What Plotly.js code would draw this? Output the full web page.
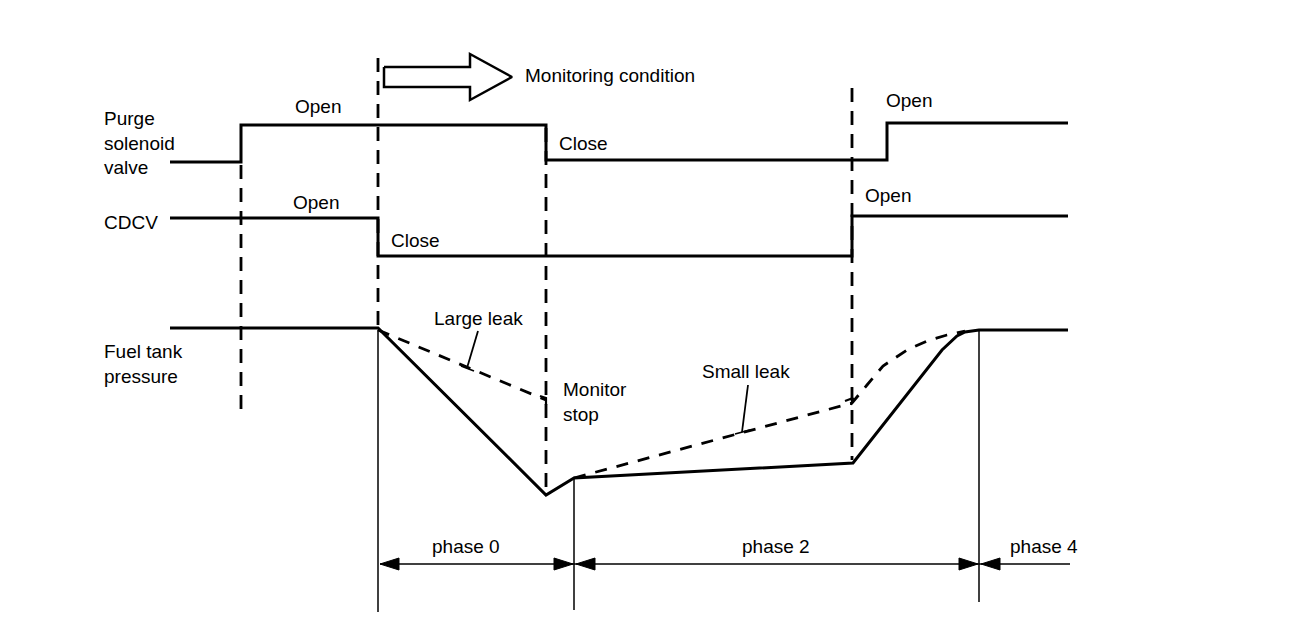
<!DOCTYPE html>
<html>
<head>
<meta charset="utf-8">
<script src="https://cdn.plot.ly/plotly-3.0.1.min.js"></script>
<style>html,body{margin:0;padding:0;background:#fff;}#chart{width:1312px;height:642px;}</style>
</head>
<body>
<div id="chart"></div>
<script>
// ---- Data (time axis in diagram units, level axis in diagram units, y grows downward) ----
const purgeT     = [170, 241, 241, 546, 546, 887, 887, 1068];
const purgeLevel = [162, 162, 125, 125, 160, 160, 123, 123];

const cdcvT     = [170, 378, 378, 852, 852, 1068];
const cdcvLevel = [218, 218, 256, 256, 216, 216];

const pressureT     = [170, 378, 546, 574, 853, 942, 957, 965, 979, 1068];
const pressureLevel = [328, 328, 495, 478, 463, 350, 336, 332, 330, 330];

const largeLeakT     = [378, 546];
const largeLeakLevel = [330, 400];

const smallLeakT     = [574, 852, 867, 883, 907, 927, 947, 965];
const smallLeakLevel = [478, 403, 385, 366, 350, 341, 335, 331];

// event markers (dashed) : time, top, bottom
const eventT      = [241, 378, 546, 852];
const eventTop    = [165, 58, 128, 88];
const eventBottom = [415, 330, 490, 460];

// phase boundaries (thin solid): time, top
const phaseT   = [378, 574, 979];
const phaseTop = [330, 478, 330];
const phaseEnd = 1070;
const phaseLabels = ["phase 0", "phase 2", "phase 4"];

const signalLabels = ["Purge<br>solenoid<br>valve", "CDCV", "Fuel tank<br>pressure"];
const stateLabels  = ["Open", "Open", "Close", "Close", "Open", "Open"];
const noteLabels   = ["Monitoring condition", "Large leak", "Monitor<br>stop", "Small leak"];

// ---- Build traces ----
const BLK = '#000';
const traces = [];
function line(x, y, w, dash) {
  traces.push({x: x, y: y, mode: 'lines', type: 'scatter', hoverinfo: 'skip',
    line: {color: BLK, width: w, dash: dash || 'solid', shape: 'linear'}, showlegend: false, connectgaps: false});
}
line(purgeT, purgeLevel, 3);
line(cdcvT, cdcvLevel, 3);
line(pressureT, pressureLevel, 3);
line(largeLeakT, largeLeakLevel, 2.8, '12px,10px');
line(smallLeakT, smallLeakLevel, 2.8, '12px,10px');

// dashed event lines
(function(){
  const x = [], y = [];
  eventT.forEach((t, i) => { x.push(t, t, null); y.push(eventTop[i], eventBottom[i], null); });
  line(x, y, 2.8, '14px,9px');
})();

// thin phase boundary lines
const boundaryBottom = [612, 610, 602];
(function(){
  const x = [], y = [];
  phaseT.forEach((t, i) => { x.push(t, t, null); y.push(phaseTop[i], boundaryBottom[i], null); });
  line(x, y, 1.5);
})();

// phase arrows
const arrowY = 564;
line([phaseT[0] + 2, phaseEnd], [arrowY, arrowY], 1.5);
function head(tipX, dir) { // dir = -1 points left, +1 points right
  const L = 19, H = 6;
  traces.push({x: [tipX, tipX - dir * L, tipX - dir * L, tipX], y: [arrowY, arrowY - H, arrowY + H, arrowY],
    mode: 'lines', fill: 'toself', fillcolor: BLK, line: {color: BLK, width: 1}, hoverinfo: 'skip', showlegend: false});
}
for (let i = 0; i < phaseT.length; i++) {
  head(phaseT[i] + 2, -1);
  if (i + 1 < phaseT.length) head(phaseT[i + 1] - 1, 1);
}

// hollow "monitoring condition" arrow starting at monitoring start
(function(){
  const x0 = eventT[1] + 6, yc = 77;
  const bx = [x0, x0 + 86, x0 + 86, x0 + 128, x0 + 86, x0 + 86, x0, x0];
  const by = [yc - 10, yc - 10, yc - 23, yc, yc + 23, yc + 10, yc + 10, yc - 10];
  line(bx, by, 2.5);
})();

// leader lines
line([478, 467, null, 461, 474], [331, 368, null, 366, 371], 1.8);
line([748, 742, null, 735, 750], [385, 432, null, 434, 430], 1.8);
// small hooks at ends of dashed traces
line([540, 546, 546], [396, 398, 405], 2.2);
line([845, 853, 851], [401, 398, 405], 2.2);

// ---- Annotations ----
const FONT = {family: 'Liberation Sans, Arial, sans-serif', size: 19, color: BLK};
const ann = [];
function txt(text, x, y, xanchor) {
  ann.push({text: text, x: x, y: y, xref: 'x', yref: 'y', showarrow: false,
    xanchor: xanchor || 'center', yanchor: 'middle', align: 'left', font: FONT});
}
txt(signalLabels[0], 102, 143, 'left');
txt(signalLabels[1], 102, 222, 'left');
txt(signalLabels[2], 102, 364, 'left');
txt(stateLabels[0], 318, 106);
txt(stateLabels[1], 316, 202);
txt(stateLabels[2], 389, 240, 'left');
txt(stateLabels[3], 557, 143, 'left');
txt(stateLabels[4], 884, 100, 'left');
txt(stateLabels[5], 863, 195, 'left');
txt(noteLabels[0], 523, 75, 'left');
txt(noteLabels[1], 478, 318);
txt(noteLabels[2], 561, 402, 'left');
txt(noteLabels[3], 746, 371);
txt(phaseLabels[0], 466, 546);
txt(phaseLabels[1], 776, 546);
txt(phaseLabels[2], 1008, 546, 'left');

const layout = {
  width: 1312, height: 642,
  margin: {l: 0, r: 0, t: 0, b: 0},
  paper_bgcolor: '#fff', plot_bgcolor: '#fff',
  xaxis: {range: [0, 1312], visible: false, fixedrange: true},
  yaxis: {range: [642, 0], visible: false, fixedrange: true},
  annotations: ann,
  showlegend: false
};
Plotly.newPlot('chart', traces, layout, {staticPlot: true, displayModeBar: false});
</script>
</body>
</html>
